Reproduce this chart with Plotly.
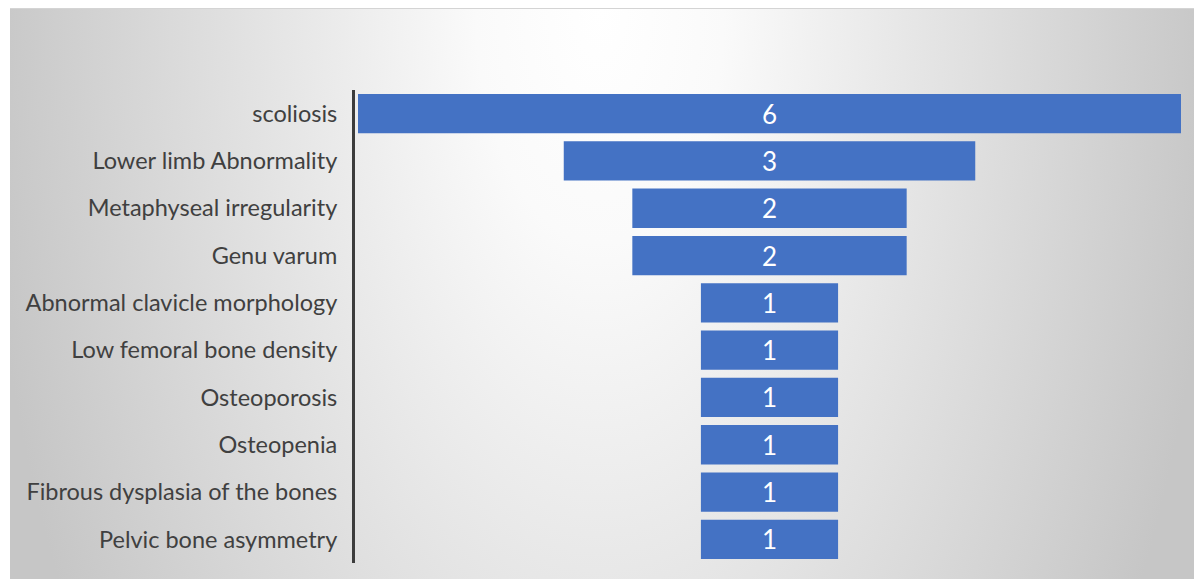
import base64
import plotly.graph_objects as go

# Skeletal findings and the number of cases for each
categories = [
    "scoliosis",
    "Lower limb Abnormality",
    "Metaphyseal irregularity",
    "Genu varum",
    "Abnormal clavicle morphology",
    "Low femoral bone density",
    "Osteoporosis",
    "Osteopenia",
    "Fibrous dysplasia of the bones",
    "Pelvic bone asymmetry",
]
counts = [6, 3, 2, 2, 1, 1, 1, 1, 1, 1]

W, H = 1194, 579
L, R, T, B = 355, 10, 90, 16
plot_w = W - L - R
plot_h = H - T - B

# soft grey backdrop: light in the middle, darker towards the sides
bg_svg = f"""<svg xmlns='http://www.w3.org/2000/svg' width='{W - 10}' height='{H - 8}' viewBox='0 0 {W - 10} {H - 8}'>
<defs>
<radialGradient id='g' gradientUnits='userSpaceOnUse' cx='590' cy='0' r='620'
 gradientTransform='translate(590 0) scale(1 1.9) translate(-590 0)'>
<stop offset='0' stop-color='#ffffff'/>
<stop offset='0.2' stop-color='#fafafa'/>
<stop offset='1' stop-color='#c6c6c6'/>
</radialGradient>
</defs>
<rect width='100%' height='100%' fill='url(#g)'/>
<line x1='0' y1='0.5' x2='{W}' y2='0.5' stroke='#d4d4d4' stroke-width='1'/>
</svg>"""
bg_uri = "data:image/svg+xml;base64," + base64.b64encode(bg_svg.encode()).decode()

fig = go.Figure(
    go.Funnel(
        y=categories,
        x=counts,
        textinfo="value",
        textposition="inside",
        insidetextanchor="middle",
        constraintext="none",
        textfont=dict(family="Lato, Open Sans, sans-serif", size=26, color="#ffffff"),
        insidetextfont=dict(family="Lato, Open Sans, sans-serif", size=26, color="#ffffff"),
        marker=dict(color="#4472C4", line=dict(width=0)),
        connector=dict(visible=False),
        hoverinfo="y+x",
    )
)

half = 3 + 3 * 6 / (plot_w - 6)
fig.update_layout(
    width=W,
    height=H,
    margin=dict(l=L, r=R, t=T, b=B, pad=0),
    paper_bgcolor="#ffffff",
    plot_bgcolor="rgba(0,0,0,0)",
    funnelgap=0.17,
    uniformtext=dict(mode=False),
    showlegend=False,
    font=dict(family="Lato, Open Sans, sans-serif", color="#404040"),
    xaxis=dict(visible=False, range=[-half, half], fixedrange=True),
    yaxis=dict(
        range=[9.5, -0.5],
        showline=True,
        linecolor="#3c3c3c",
        linewidth=3,
        showgrid=False,
        zeroline=False,
        ticks="",
        ticklabelstandoff=10,
        tickfont=dict(family="Lato, Open Sans, sans-serif", size=23.5, color="#404040"),
        fixedrange=True,
    ),
    images=[
        dict(
            source=bg_uri,
            xref="paper",
            yref="paper",
            x=(10 - L) / plot_w,
            y=(H - B - 8) / plot_h,
            sizex=(W - 10) / plot_w,
            sizey=(H - 8) / plot_h,
            xanchor="left",
            yanchor="top",
            sizing="stretch",
            layer="below",
        )
    ],
)

fig.write_html("out.html")
